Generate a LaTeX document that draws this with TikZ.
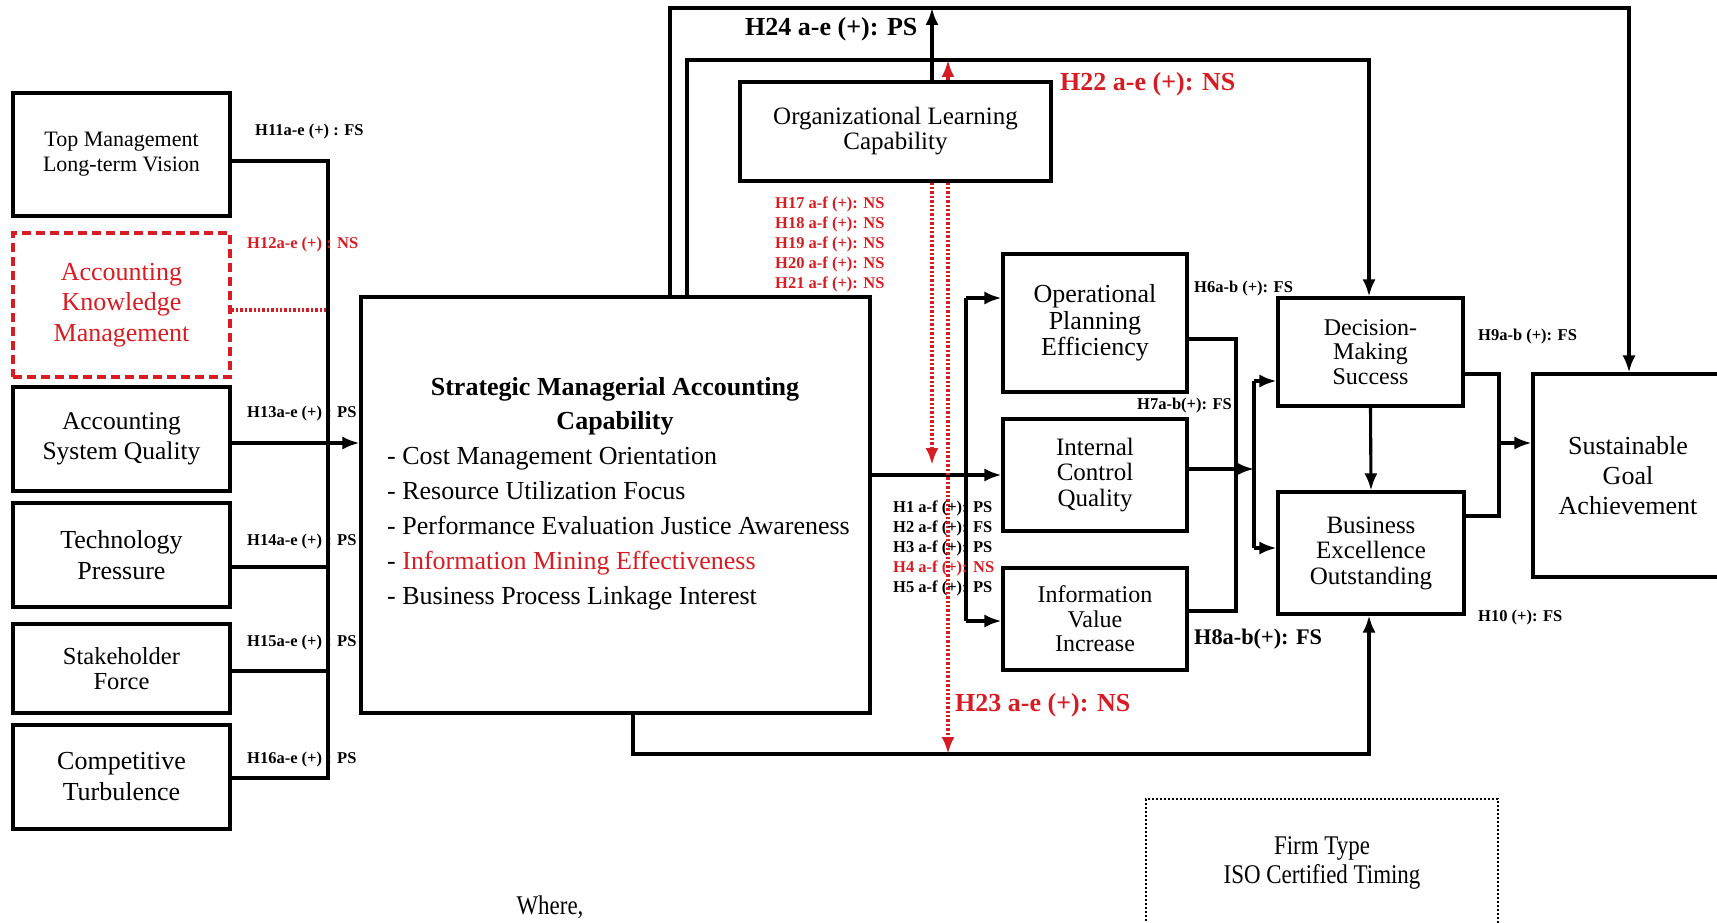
\documentclass[tikz,border=0pt]{standalone}
\usepackage{fontspec}
\setmainfont{Liberation Serif}
\newfontfamily\condfont[FakeStretch=0.85]{Liberation Serif}
\usetikzlibrary{arrows.meta}
\definecolor{myred}{RGB}{214,28,36}
\begin{document}
\begin{tikzpicture}[x=1pt,y=-1pt,
  box/.style={draw, line width=3.1pt, inner sep=0pt, align=center, font=\fontsize{26}{31}\selectfont},
  conn/.style={line width=3.1pt},
  arr/.style={conn, -{Latex[length=17pt,width=13pt]}},
  reddot/.style={draw=myred, line width=3.4pt, dash pattern=on 2.4pt off 2pt},
  reddotarr/.style={reddot, -{Latex[length=17pt,width=13pt]}},
  lab/.style={font=\fontsize{16.5}{20}\selectfont\bfseries, inner sep=0pt, anchor=west, align=left},
  big/.style={font=\fontsize{26}{30}\selectfont\bfseries, inner sep=0pt, anchor=west}
]
\useasboundingbox (0,0) rectangle (1717,923);
\clip (0,0) rectangle (1717,923);

% ---------- left boxes ----------
\node[box, minimum width=217pt, minimum height=123pt, font=\fontsize{22}{25}\selectfont] (tm) at (121.5,154.5) {Top Management\\Long-term Vision};
\node[box, draw=myred, text=myred, dash pattern=on 9pt off 5pt, minimum width=217pt, minimum height=144pt, font=\fontsize{26}{30.7}\selectfont] (akm) at (121.5,305) {Accounting\\Knowledge\\Management};
\node[box, minimum width=217pt, minimum height=104pt, font=\fontsize{25.5}{29.6}\selectfont] (asq) at (121.5,439) {Accounting\\System Quality};
\node[box, minimum width=217pt, minimum height=104pt, font=\fontsize{26}{30.7}\selectfont] (tp) at (121.5,555) {Technology\\Pressure};
\node[box, minimum width=217pt, minimum height=89pt, font=\fontsize{24.5}{25}\selectfont] (sf) at (121.5,668.5) {Stakeholder\\Force};
\node[box, minimum width=217pt, minimum height=104pt, font=\fontsize{26}{31}\selectfont] (ct) at (121.5,777) {Competitive\\Turbulence};

% ---------- central boxes ----------
\node[box, minimum width=509pt, minimum height=416pt] (smac) at (615.5,505) {};
\node[inner sep=0pt, align=center, font=\fontsize{26}{34}\selectfont\bfseries] (smactitle) at (615,406) {Strategic Managerial Accounting\\Capability};
\node[inner sep=0pt, anchor=west, align=left, font=\fontsize{26}{35}\selectfont] (smacitems) at (387,529)
  {- Cost Management Orientation\\- Resource Utilization Focus\\- Performance Evaluation Justice Awareness\\- \textcolor{myred}{Information Mining Effectiveness}\\- Business Process Linkage Interest};

\node[box, minimum width=311pt, minimum height=99pt, font=\fontsize{25}{25}\selectfont] (olc) at (895.5,131.5) {Organizational Learning\\Capability};

\node[box, minimum width=184pt, minimum height=138pt, font=\fontsize{26}{26.7}\selectfont] (ope) at (1095,323) {Operational\\Planning\\Efficiency};
\node[box, minimum width=184pt, minimum height=112pt, font=\fontsize{25}{25.5}\selectfont] (icq) at (1095,475) {Internal\\Control\\Quality};
\node[box, minimum width=184pt, minimum height=102pt, font=\fontsize{24}{24.5}\selectfont] (ivi) at (1095,619) {Information\\Value\\Increase};

\node[box, minimum width=185pt, minimum height=108pt, font=\fontsize{24}{24.5}\selectfont] (dms) at (1370.5,352) {Decision-\\Making\\Success};
\node[box, minimum width=186pt, minimum height=122pt, font=\fontsize{25}{25.5}\selectfont] (beo) at (1371,553) {Business\\Excellence\\Outstanding};
\node[box, minimum width=190pt, minimum height=203pt, font=\fontsize{26}{30}\selectfont] (sga) at (1628,475.5) {Sustainable\\Goal\\Achievement};

\node[box, dash pattern=on 2.4pt off 1.6pt, line width=2.6pt, minimum width=352pt, minimum height=128pt, font=\condfont\fontsize{27}{28.5}\selectfont] (firm) at (1322,863) {Firm Type\\ISO Certified Timing};
\node[inner sep=0pt, font=\condfont\fontsize{27}{30}\selectfont] (where) at (550,907) {Where,};

% ---------- coordinates ----------
\coordinate (cTop) at (328,161);
\coordinate (cBot) at (328,778);
\coordinate (cTP) at (328,567);
\coordinate (cSF) at (328,671);
\coordinate (t1) at (670,8);
\coordinate (t2) at (1629,8);
\coordinate (u1) at (687,60);
\coordinate (u2) at (1369,60);
\coordinate (h24) at (932,8);
\coordinate (h22) at (948,60);
\coordinate (rd1) at (932,465);
\coordinate (rd2) at (948,754);
\coordinate (b1) at (633,754);
\coordinate (b2) at (1369,754);
\coordinate (bOPE) at (966,298);
\coordinate (bIVI) at (966,621);
\coordinate (r1) at (1236,339);
\coordinate (r2) at (1236,611);
\coordinate (m2) at (1254,469);
\coordinate (dTop) at (1254,381);
\coordinate (dBot) at (1254,548);
\coordinate (s1) at (1499,374);
\coordinate (s2) at (1499,516);
\coordinate (s3) at (1499,443);

% ---------- left connectors ----------
\draw[conn] (tm.east |- cTop) -- (cTop) -- (cBot) -- (ct.east |- cBot);
\draw[conn] (tp.east |- cTP) -- (cTP);
\draw[conn] (sf.east |- cSF) -- (cSF);
\draw[reddot] ([yshift=-5pt]akm.east) -- ([yshift=-5pt]akm.east -| cTop);
\draw[arr] ([yshift=-4pt]asq.east) -- ([yshift=-4pt]asq.east -| smac.west);

% ---------- top loops ----------
\draw[arr] (smac.north -| t1) -- (t1) -- (t2) -- (sga.north -| t2);
\draw[arr] (smac.north -| u1) -- (u1) -- (u2) -- (dms.north -| u2);
\draw[arr] (olc.north -| h24) -- (h24);
\draw[conn, myred, -{Latex[length=17pt,width=13pt]}] (olc.north -| h22) -- (h22);

% ---------- SMAC to mediators ----------
\draw[arr] (smac.east |- icq.west) -- (icq.west);
\draw[conn] (bOPE) -- (bIVI);
\draw[arr] (bOPE) -- (ope.west |- bOPE);
\draw[arr] (bIVI) -- (ivi.west |- bIVI);

% ---------- mediators to outcomes ----------
\draw[conn] (ope.east |- r1) -- (r1) -- (r2) -- (ivi.east |- r2);
\draw[arr] (icq.east |- m2) -- (m2);
\draw[conn] (dTop) -- (dBot);
\draw[arr] (dTop) -- (dms.west |- dTop);
\draw[arr] (dBot) -- (beo.west |- dBot);
\draw[arr] (dms.south) -- (beo.north);
\draw[conn] (dms.east |- s1) -- (s1) -- (s2) -- (beo.east |- s2);
\draw[arr] (s3) -- (sga.west |- s3);

% ---------- bottom loop ----------
\draw[arr] (smac.south -| b1) -- (b1) -- (b2) -- (beo.south -| b2);

% ---------- red dotted moderation ----------
\draw[reddotarr] (olc.south -| rd1) -- (rd1);
\draw[reddotarr] (olc.south -| rd2) -- (rd2);

% ---------- labels ----------
\node[lab] (l11) at (255,132) {H11a-e (+) : FS};
\node[lab, text=myred] (l12) at (247,245) {H12a-e (+) : NS};
\node[lab] (l13) at (247,414) {H13a-e (+) : PS};
\node[lab] (l14) at (247,542) {H14a-e (+) : PS};
\node[lab] (l15) at (247,643) {H15a-e (+) : PS};
\node[lab] (l16) at (247,760) {H16a-e (+) : PS};

\node[lab, text=myred] (l1721) at (775,244.5) {H17 a-f (+): NS\\H18 a-f (+): NS\\H19 a-f (+): NS\\H20 a-f (+): NS\\H21 a-f (+): NS};
\node[lab] (l15b) at (893,548) {H1 a-f (+): PS\\H2 a-f (+): FS\\H3 a-f (+): PS\\\textcolor{myred}{H4 a-f (+): NS}\\H5 a-f (+): PS};

\node[big] (l24) at (745,29) {H24 a-e (+): PS};
\node[big, text=myred] (l22) at (1060,84) {H22 a-e (+): NS};
\node[big, text=myred] (l23) at (955,705) {H23 a-e (+): NS};

\node[lab] (l6) at (1194,289) {H6a-b (+): FS};
\node[lab] (l7) at (1137,406) {H7a-b(+): FS};
\node[lab, font=\fontsize{22.3}{26}\selectfont\bfseries] (l8) at (1194,639) {H8a-b(+): FS};
\node[lab] (l9) at (1478,337) {H9a-b (+): FS};
\node[lab] (l10) at (1478,618) {H10 (+): FS};
\end{tikzpicture}
\end{document}
